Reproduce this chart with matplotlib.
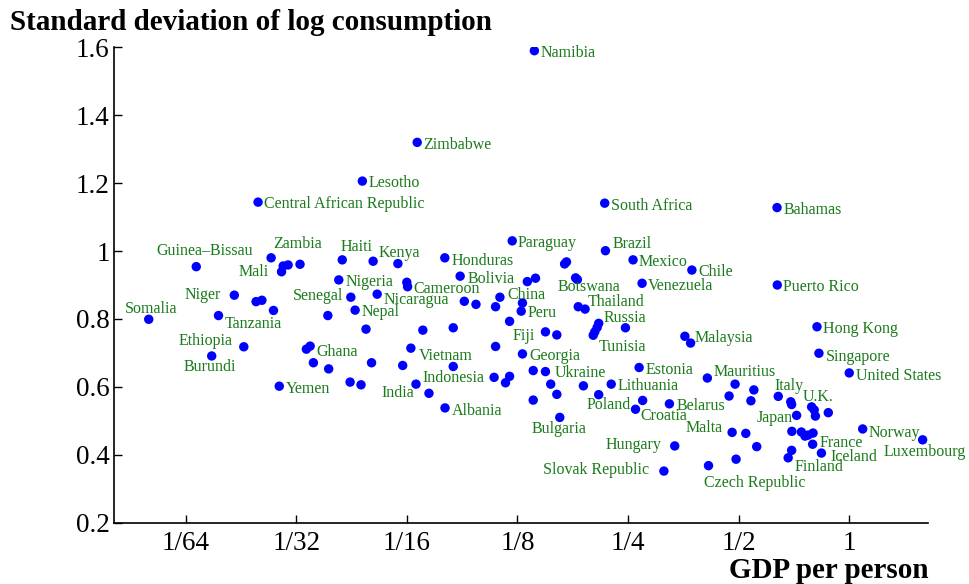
import matplotlib
matplotlib.use("Agg")
import matplotlib.pyplot as plt
from matplotlib.ticker import FixedLocator, NullLocator

# GDP per person relative to the US, and std. dev. of log consumption
countries = [
    "Somalia", "Guinea–Bissau", "Niger", "Tanzania", "Ethiopia", "Burundi",
    "Central African Republic", "Zambia", "Mali", "Yemen", "Ghana", "Haiti",
    "Nigeria", "Senegal", "Nepal", "Lesotho", "Kenya", "Nicaragua", "Cameroon",
    "Zimbabwe", "Indonesia", "India", "Vietnam", "Honduras", "Albania",
    "Bolivia", "Paraguay", "China", "Peru", "Fiji", "Georgia", "Ukraine",
    "Namibia", "Bulgaria", "Botswana", "Thailand", "Russia", "Tunisia",
    "South Africa", "Brazil", "Lithuania", "Poland", "Croatia", "Mexico",
    "Venezuela", "Estonia", "Hungary", "Slovak Republic", "Belarus",
    "Malaysia", "Chile", "Mauritius", "Czech Republic", "Malta", "Bahamas",
    "Puerto Rico", "Italy", "U.K.", "Japan", "Hong Kong", "Singapore",
    "France", "Iceland", "Finland", "United States", "Norway", "Luxembourg",
] + [""] * 60

gdp = [
    0.0124, 0.0167, 0.0212, 0.0192, 0.0225, 0.0184,
    0.0246, 0.0267, 0.0285, 0.0281, 0.0341, 0.0417,
    0.0408, 0.0440, 0.0452, 0.0473, 0.0506, 0.0519, 0.0628,
    0.0667, 0.0662, 0.0718, 0.0641, 0.0793, 0.0794,
    0.0873, 0.121, 0.112, 0.128, 0.149, 0.129, 0.149,
    0.139, 0.163, 0.180, 0.191, 0.208, 0.201,
    0.216, 0.217, 0.225, 0.274, 0.262, 0.258,
    0.273, 0.268, 0.335, 0.313, 0.324,
    0.370, 0.373, 0.411, 0.414, 0.480, 0.636,
    0.637, 0.641, 0.697, 0.719, 0.817, 0.827,
    0.795, 0.840, 0.682, 1.0, 1.088, 1.584,
    # unlabelled countries
    0.0243, 0.0252, 0.0271, 0.0288, 0.0297, 0.0320, 0.0333, 0.0348, 0.0383,
    0.0381, 0.0438, 0.0469, 0.0501, 0.0609, 0.0836, 0.0591, 0.0625, 0.0484,
    0.0691, 0.0836, 0.119, 0.0896, 0.0964, 0.109, 0.129, 0.133, 0.109,
    0.108, 0.119, 0.116, 0.138, 0.154, 0.160, 0.189, 0.138, 0.168,
    0.170, 0.140, 0.182, 0.183, 0.206, 0.203, 0.246, 0.160, 0.208,
    0.357, 0.489, 0.550, 0.471, 0.540, 0.790, 0.803, 0.809, 0.877,
    0.523, 0.560, 0.492, 0.698, 0.741, 0.758, 0.773, 0.797, 0.697, 0.693,
]

sd = [
    0.799, 0.954, 0.870, 0.810, 0.718, 0.691,
    1.144, 0.980, 0.939, 0.602, 0.720, 0.974,
    0.915, 0.864, 0.826, 1.206, 0.970, 0.873, 0.895,
    1.320, 0.608, 0.581, 0.714, 0.980, 0.538,
    0.926, 1.030, 0.864, 0.823, 0.762, 0.697, 0.645,
    1.590, 0.510, 0.921, 0.829, 0.787, 0.752,
    1.141, 1.001, 0.608, 0.560, 0.534, 0.974,
    0.905, 0.657, 0.426, 0.352, 0.550,
    0.729, 0.944, 0.626, 0.368, 0.466, 1.128,
    0.900, 0.572, 0.548, 0.516, 0.777, 0.699,
    0.431, 0.405, 0.391, 0.641, 0.476, 0.444,
    # unlabelled countries
    0.851, 0.855, 0.825, 0.956, 0.959, 0.961, 0.711, 0.671, 0.653,
    0.810, 0.614, 0.606, 0.671, 0.663, 0.660, 0.963, 0.908, 0.770,
    0.767, 0.774, 0.793, 0.852, 0.843, 0.836, 0.847, 0.910, 0.719,
    0.628, 0.631, 0.612, 0.648, 0.608, 0.578, 0.603, 0.561, 0.962,
    0.968, 0.920, 0.916, 0.836, 0.775, 0.762, 0.774, 0.753, 0.577,
    0.749, 0.608, 0.591, 0.573, 0.559, 0.541, 0.532, 0.514, 0.524,
    0.463, 0.424, 0.387, 0.469, 0.467, 0.455, 0.458, 0.464, 0.413, 0.556,
]

xticks = [1 / 64, 1 / 32, 1 / 16, 1 / 8, 1 / 4, 1 / 2, 1]
xtick_labels = ["1/64", "1/32", "1/16", "1/8", "1/4", "1/2", "1"]
yticks = [0.2, 0.4, 0.6, 0.8, 1.0, 1.2, 1.4, 1.6]
ytick_labels = ["0.2", "0.4", "0.6", "0.8", "1", "1.2", "1.4", "1.6"]

# label placement: pixel offset from the dot and horizontal alignment
label_pos = {
    "Somalia": (-24, 10, "left"), "Guinea–Bissau": (-40, 15.7, "left"),
    "Niger": (-13.6, 0, "right"), "Tanzania": (6.3, -8.6, "left"),
    "Ethiopia": (-11, 5.7, "right"), "Burundi": (-2, -11, "center"),
    "Central African Republic": (6, -1.7, "left"), "Zambia": (1.7, 13.7, "left"),
    "Mali": (-12.7, 0, "right"), "Yemen": (6.7, -2.7, "left"),
    "Ghana": (6.7, -5.7, "left"), "Haiti": (-1.3, 12.7, "left"),
    "Nigeria": (6.7, -2.3, "left"), "Senegal": (-7.4, 1.6, "right"),
    "Nepal": (6, -1.7, "left"), "Lesotho": (6.4, -2.3, "left"),
    "Kenya": (5, 8.6, "left"), "Nicaragua": (6.7, -6, "left"),
    "Cameroon": (5.6, -2.6, "left"), "Zimbabwe": (6.3, -3, "left"),
    "Indonesia": (6, 6.6, "left"), "India": (-15, 0, "right"),
    "Vietnam": (8.3, -8, "left"), "Honduras": (7, -3, "left"),
    "Albania": (6.7, -3, "left"), "Bolivia": (7, -3.3, "left"),
    "Paraguay": (5.7, -2.6, "left"), "China": (7.8, 2.3, "left"),
    "Peru": (6.6, -1.7, "left"), "Fiji": (-10, -4.3, "right"),
    "Georgia": (6.7, -2, "left"), "Ukraine": (9, -1.8, "left"),
    "Namibia": (6.7, -2.6, "left"), "Bulgaria": (-0.8, -11.8, "center"),
    "Botswana": (13.4, -9.6, "center"), "Thailand": (3, 6.7, "left"),
    "Russia": (5, 5, "left"), "Tunisia": (5, -11.4, "left"),
    "South Africa": (6, -2.7, "left"), "Brazil": (7, 6.7, "left"),
    "Lithuania": (6.2, -1.7, "left"), "Poland": (-11.6, -4.5, "right"),
    "Croatia": (5.3, -6.7, "left"), "Mexico": (6, -2.3, "left"),
    "Venezuela": (5.6, -2.4, "left"), "Estonia": (6.4, -2.5, "left"),
    "Hungary": (-13.3, 0.5, "right"), "Slovak Republic": (-15, 1, "right"),
    "Belarus": (6.7, -2, "left"), "Malaysia": (4.5, 4.7, "left"),
    "Chile": (6.3, -2.3, "left"), "Mauritius": (5.8, 6.3, "left"),
    "Czech Republic": (-4.4, -17.6, "left"), "Malta": (-9, 4, "right"),
    "Bahamas": (6.3, -2.3, "left"), "Puerto Rico": (6, -1.7, "left"),
    "Italy": (-4.3, 10.3, "left"), "U.K.": (10.6, 7.2, "left"),
    "Japan": (-3.4, -3, "right"), "Hong Kong": (6.3, -2.6, "left"),
    "Singapore": (6.7, -3.4, "left"), "France": (6.6, 0.9, "left"),
    "Iceland": (9.5, -4.3, "left"), "Finland": (6, -9.5, "left"),
    "United States": (6.6, -3, "left"), "Norway": (5.6, -3.7, "left"),
    "Luxembourg": (-38.7, -11.7, "left"),
}

plt.rcParams["font.family"] = ["Liberation Serif", "DejaVu Serif"]
label_green = "#1b7a1b"

fig = plt.figure(figsize=(9.69, 5.84), dpi=100)
ax = fig.add_axes([0.1176, 0.1050, 0.8403, 0.8140])

ax.scatter(gdp, sd, s=46, color="#0000ff", edgecolors="none", zorder=3)

for name, x, y in zip(countries, gdp, sd):
    if name in label_pos:
        dx, dy, ha = label_pos[name]
        ax.annotate(name, (x, y), xytext=(dx, dy), textcoords="offset pixels",
                    ha=ha, va="center", fontsize=11.5, color=label_green)

ax.set_xscale("log", base=2)
ax.set_xlim(2 ** -6.648, 2 ** 0.714)
ax.set_ylim(0.2, 1.6)
ax.xaxis.set_major_locator(FixedLocator(xticks))
ax.xaxis.set_minor_locator(NullLocator())
ax.set_xticklabels(xtick_labels)
ax.set_yticks(yticks)
ax.set_yticklabels(ytick_labels)

for side in ["top", "right"]:
    ax.spines[side].set_visible(False)
for side in ["left", "bottom"]:
    ax.spines[side].set_linewidth(1.2)

ax.tick_params(axis="both", direction="in", length=5.5, width=1, labelsize=19.5)
ax.tick_params(axis="x", pad=6)
ax.tick_params(axis="y", pad=3)

fig.text(10 / 969, 1 - 22 / 584, "Standard deviation of log consumption",
         ha="left", va="center", fontsize=21, fontweight="bold")
fig.text(928.3 / 969, 1 - 570 / 584, "GDP per person",
         ha="right", va="center", fontsize=21, fontweight="bold")

fig.savefig("out.png", dpi=100)
